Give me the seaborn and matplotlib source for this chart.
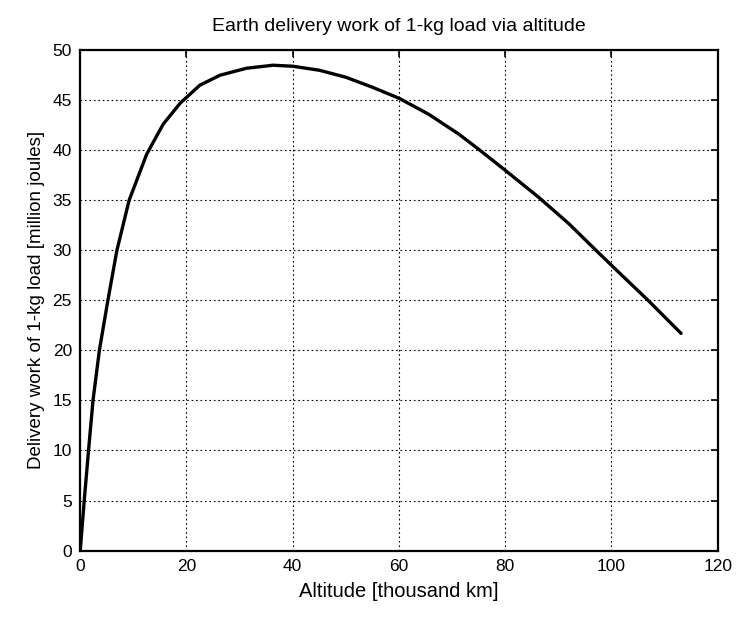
import numpy as np
import pandas as pd
import matplotlib
matplotlib.use("Agg")
import matplotlib.pyplot as plt
import seaborn as sns

# valores
altitud = [0, 0.75, 1.56, 2.4, 3.6, 5.2, 6.9, 9.2, 12.5, 15.6, 18.8, 22.5, 26.3,
           31.3, 36.3, 40, 45, 50, 55, 60, 65.6, 71.3, 75, 80, 86.3, 91.9,
           96.9, 100.4, 106.9, 113.1]
trabajo = [0, 5, 10, 15, 20, 25, 30, 35, 39.6, 42.6, 44.7, 46.5, 47.5,
           48.2, 48.5, 48.4, 48.0, 47.3, 46.3, 45.2, 43.6, 41.6, 40.1, 38.0, 35.3, 32.7,
           30.1, 28.3, 25.0, 21.7]

titulo = "Earth delivery work of 1-kg load via altitude"
etiqueta_x = "Altitude [thousand km]"
etiqueta_y = "Delivery work of 1-kg load [million joules]"

df = pd.DataFrame({"x": altitud, "y": trabajo})

sns.set_style("white")
plt.rcParams["font.family"] = ["Liberation Sans", "DejaVu Sans"]
plt.rcParams["text.color"] = "black"
plt.rcParams["axes.labelcolor"] = "black"

fig = plt.figure(figsize=(7.43, 6.2), dpi=100)
ax = fig.add_axes([0.108, 0.112, 0.858, 0.807])

sns.lineplot(data=df, x="x", y="y", ax=ax, color="black", linewidth=2.4, sort=False)

ax.set_xlim(0, 120)
ax.set_ylim(0, 50)
ax.set_xticks(np.arange(0, 121, 20))
ax.set_yticks(np.arange(0, 51, 5))
ax.grid(True, color="black", linestyle=(0, (1.5, 2.5)), linewidth=0.8)
ax.tick_params(direction="in", length=5, width=1.2, labelsize=12.5, colors="black",
               top=True, right=True, pad=6)
for s in ax.spines.values():
    s.set_color("black")
    s.set_linewidth(1.6)

ax.set_title(titulo, fontsize=14, pad=14)
ax.set_xlabel(etiqueta_x, fontsize=14.5, labelpad=6)
ax.set_ylabel(etiqueta_y, fontsize=13.5, labelpad=5)

fig.savefig("out.png", dpi=100)
